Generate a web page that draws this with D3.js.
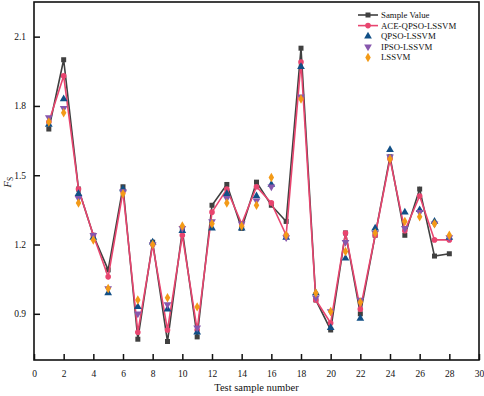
<!DOCTYPE html>
<html>
<head>
<meta charset="utf-8">
<script src="https://cdn.jsdelivr.net/npm/d3@7"></script>
<style>
  body { margin: 0; background: #fff; }
  svg { display: block; font-family: "Liberation Serif", "Times New Roman", serif; }
</style>
</head>
<body>
<script>
// test sample index 1..28
const samples = d3.range(1, 29);

const sampleValue = [1.70, 2.00, 1.44, 1.24, 1.09, 1.45, 0.79, 1.21, 0.78, 1.26, 0.80, 1.37, 1.46, 1.27,
    1.47, 1.37, 1.30, 2.05, 0.96, 0.83, 1.25, 0.90, 1.24, 1.58, 1.24, 1.44, 1.15, 1.16];
const aceQpso = [1.73, 1.93, 1.44, 1.24, 1.06, 1.43, 0.82, 1.20, 0.83, 1.24, 0.83, 1.34, 1.44, 1.29,
    1.45, 1.38, 1.24, 1.99, 0.96, 0.86, 1.25, 0.92, 1.24, 1.57, 1.26, 1.41, 1.22, 1.22];
const qpso = [1.72, 1.83, 1.42, 1.23, 0.99, 1.44, 0.93, 1.21, 0.92, 1.26, 0.82, 1.27, 1.42, 1.27,
    1.41, 1.46, 1.23, 1.97, 0.99, 0.84, 1.14, 0.88, 1.27, 1.61, 1.34, 1.35, 1.30, 1.23];
const ipso = [1.75, 1.79, 1.40, 1.24, 1.01, 1.43, 0.90, 1.20, 0.94, 1.27, 0.84, 1.30, 1.40, 1.29,
    1.39, 1.45, 1.23, 1.84, 0.97, 0.91, 1.21, 0.96, 1.25, 1.58, 1.27, 1.34, 1.29, 1.23];
const lssvm = [1.73, 1.77, 1.38, 1.22, 1.01, 1.42, 0.96, 1.20, 0.97, 1.28, 0.93, 1.29, 1.38, 1.28,
    1.37, 1.49, 1.24, 1.83, 0.99, 0.91, 1.17, 0.95, 1.25, 1.57, 1.30, 1.32, 1.29, 1.24];

const xTicks = d3.range(0, 31, 2);
const yTicks = [0.9, 1.2, 1.5, 1.8, 2.1];

const series = [
    { name: "Sample Value", values: sampleValue, color: "#404040", symbol: d3.symbolSquare, size: 25, line: true },
    { name: "ACE-QPSO-LSSVM", values: aceQpso, color: "#e8456f", symbol: d3.symbolCircle, size: 25, line: true },
    { name: "QPSO-LSSVM", values: qpso, color: "#114f86", symbol: d3.symbolTriangle, size: 26, line: false },
    { name: "IPSO-LSSVM", values: ipso, color: "#8757ad", symbol: d3.symbolTriangle, size: 26, line: false, flip: true },
    { name: "LSSVM", values: lssvm, color: "#f39a17", symbol: d3.symbolDiamond, size: 26, line: false }
];

const W = 484, H = 396;
const margin = { top: 2, right: 5, bottom: 36, left: 34 };
const w = W - margin.left - margin.right,
    h = H - margin.top - margin.bottom;

const svg = d3.select("body").append("svg")
    .attr("width", W)
    .attr("height", H);

const g = svg.append("g")
    .attr("transform", "translate(" + margin.left + "," + margin.top + ")");

const x = d3.scaleLinear().domain([0, 30]).range([0, w]);
const y = d3.scaleLinear().domain([0.7, 2.25]).range([h, 0]);

// axes, ticks pointing inward
g.append("g")
    .attr("transform", "translate(0," + h + ")")
    .call(d3.axisBottom(x).tickValues(xTicks).tickSizeInner(-6).tickSizeOuter(0).tickPadding(10))
    .call(a => a.select(".domain").remove())
    .call(a => a.selectAll("line").attr("stroke", "#111").attr("stroke-width", 1.5))
    .call(a => a.selectAll("text").attr("font-size", 9.5).attr("fill", "#111").attr("font-family", "Liberation Serif"));

g.append("g")
    .call(d3.axisLeft(y).tickValues(yTicks).tickFormat(d3.format(".1f")).tickSizeInner(-6).tickSizeOuter(0).tickPadding(8))
    .call(a => a.select(".domain").remove())
    .call(a => a.selectAll("line").attr("stroke", "#111").attr("stroke-width", 1.5))
    .call(a => a.selectAll("text").attr("font-size", 9.5).attr("fill", "#111").attr("font-family", "Liberation Serif"));

// frame
g.append("rect")
    .attr("width", w)
    .attr("height", h)
    .attr("fill", "none")
    .attr("stroke", "#111")
    .attr("stroke-width", 1.6);

const line = d3.line()
    .x((d, i) => x(samples[i]))
    .y(d => y(d));

series.forEach(s => {
    if (s.line) {
        g.append("path")
            .datum(s.values)
            .attr("d", line)
            .attr("fill", "none")
            .attr("stroke", s.color)
            .attr("stroke-width", 1.6);
    }
    g.append("g").selectAll("path")
        .data(s.values)
        .join("path")
        .attr("d", d3.symbol(s.symbol, s.size))
        .attr("transform", (d, i) => "translate(" + x(samples[i]) + "," + y(d) + ")" + (s.flip ? " rotate(180)" : ""))
        .attr("fill", s.color);
});

// axis titles
svg.append("text")
    .attr("x", margin.left + w / 2)
    .attr("y", 391)
    .attr("text-anchor", "middle")
    .attr("font-size", 10.5)
    .attr("fill", "#111")
    .text("Test sample number");

const yl = svg.append("text")
    .attr("transform", "translate(11," + (margin.top + y(1.5) + 7) + ") rotate(-90)")
    .attr("text-anchor", "middle")
    .attr("font-size", 10.5)
    .attr("fill", "#111");
yl.append("tspan").attr("font-style", "italic").text("F");
yl.append("tspan").attr("font-size", 7.5).attr("dy", 2).text("S");

// legend
const legend = svg.append("g").attr("transform", "translate(358,15)");
series.forEach((s, i) => {
    const row = legend.append("g").attr("transform", "translate(0," + (i * 10.6) + ")");
    if (s.line) {
        row.append("line")
            .attr("x1", 0).attr("x2", 20)
            .attr("stroke", s.color)
            .attr("stroke-width", 1.6);
    }
    row.append("path")
        .attr("d", d3.symbol(s.symbol, s.size))
        .attr("transform", "translate(10,0)" + (s.flip ? " rotate(180)" : ""))
        .attr("fill", s.color);
    row.append("text")
        .attr("x", 23)
        .attr("dy", "0.35em")
        .attr("font-size", 8.8)
        .attr("fill", "#111")
        .text(s.name);
});
</script>
</body>
</html>
